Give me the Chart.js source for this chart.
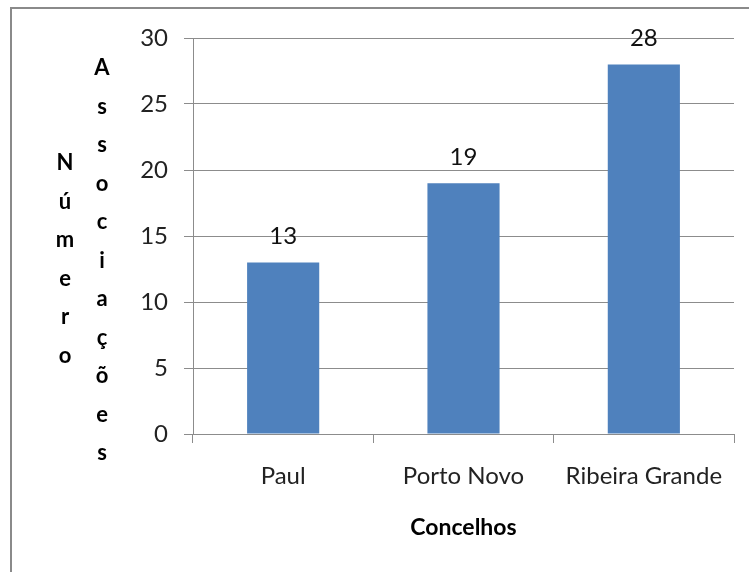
<!DOCTYPE html>
<html>
<head>
    <title>Associações por Concelho</title>
    <script src="https://cdn.jsdelivr.net/npm/chart.js"></script>
    <style>
        body { margin: 0; background: #fff; overflow: hidden; }
        #frame { position: absolute; left: 10px; top: 7px; width: 780px; height: 620px; border: 2px solid #8a8a8a; }
        #wrap { position: absolute; left: 0; top: 0; width: 749px; height: 572px; }
    </style>
</head>
<body>
    <div id="frame"></div>
    <div id="wrap">
        <canvas id="barChart" width="749" height="572"></canvas>
    </div>

    <script>
        // data
        const concelhos = ['Paul', 'Porto Novo', 'Ribeira Grande'];
        const associacoes = [13, 19, 28];
        const yTitleOuter = 'Número';
        const yTitleInner = 'Associações';
        const xTitle = 'Concelhos';

        const baseFont = 'Lato, "Open Sans", sans-serif';
        const lineGray = '#8c8c8c';

        // Excel style stacked letters + value labels
        const extraText = {
            id: 'extraText',
            afterDatasetsDraw(chart) {
                const ctx = chart.ctx;
                const area = chart.chartArea;
                ctx.save();
                ctx.textAlign = 'center';
                ctx.textBaseline = 'middle';

                // values above bars
                ctx.font = '24px ' + baseFont;
                ctx.fillStyle = '#111';
                chart.getDatasetMeta(0).data.forEach(function (bar, i) {
                    ctx.fillText(String(associacoes[i]), bar.x, bar.y - 26);
                });

                // stacked y titles
                ctx.font = 'bold 22px ' + baseFont;
                ctx.fillStyle = '#000';
                const step = 38.5;
                Array.from(yTitleOuter).forEach(function (ch, i) {
                    ctx.fillText(ch, 65, 163 + i * step);
                });
                Array.from(yTitleInner).forEach(function (ch, i) {
                    ctx.fillText(ch, 102, 68 + i * step);
                });

                // x title
                ctx.font = 'bold 23px ' + baseFont;
                ctx.fillText(xTitle, (area.left + area.right) / 2, 528);
                ctx.restore();
            }
        };

        const ctx = document.getElementById('barChart').getContext('2d');
        const chart = new Chart(ctx, {
            type: 'bar',
            data: {
                labels: concelhos,
                datasets: [{
                    data: associacoes,
                    backgroundColor: '#4f81bd',
                    borderWidth: 0,
                    barPercentage: 0.4,
                    categoryPercentage: 1.0
                }]
            },
            options: {
                responsive: false,
                animation: false,
                layout: { padding: { top: 38, right: 15, left: 0, bottom: 0 } },
                plugins: {
                    legend: { display: false },
                    tooltip: { enabled: false }
                },
                scales: {
                    x: {
                        offset: true,
                        afterFit(scale) { scale.height = 138; },
                        grid: {
                            offset: true,
                            drawOnChartArea: false,
                            color: lineGray,
                            tickLength: 9
                        },
                        border: { color: lineGray },
                        ticks: {
                            color: '#222',
                            padding: 19,
                            font: { family: baseFont, size: 24 }
                        }
                    },
                    y: {
                        min: 0,
                        max: 30,
                        afterFit(scale) { scale.width = 193; },
                        grid: { color: lineGray, tickLength: 9 },
                        border: { color: lineGray },
                        ticks: {
                            stepSize: 5,
                            color: '#222',
                            padding: 16,
                            font: { family: baseFont, size: 24 }
                        }
                    }
                }
            },
            plugins: [extraText]
        });
    </script>
</body>
</html>
